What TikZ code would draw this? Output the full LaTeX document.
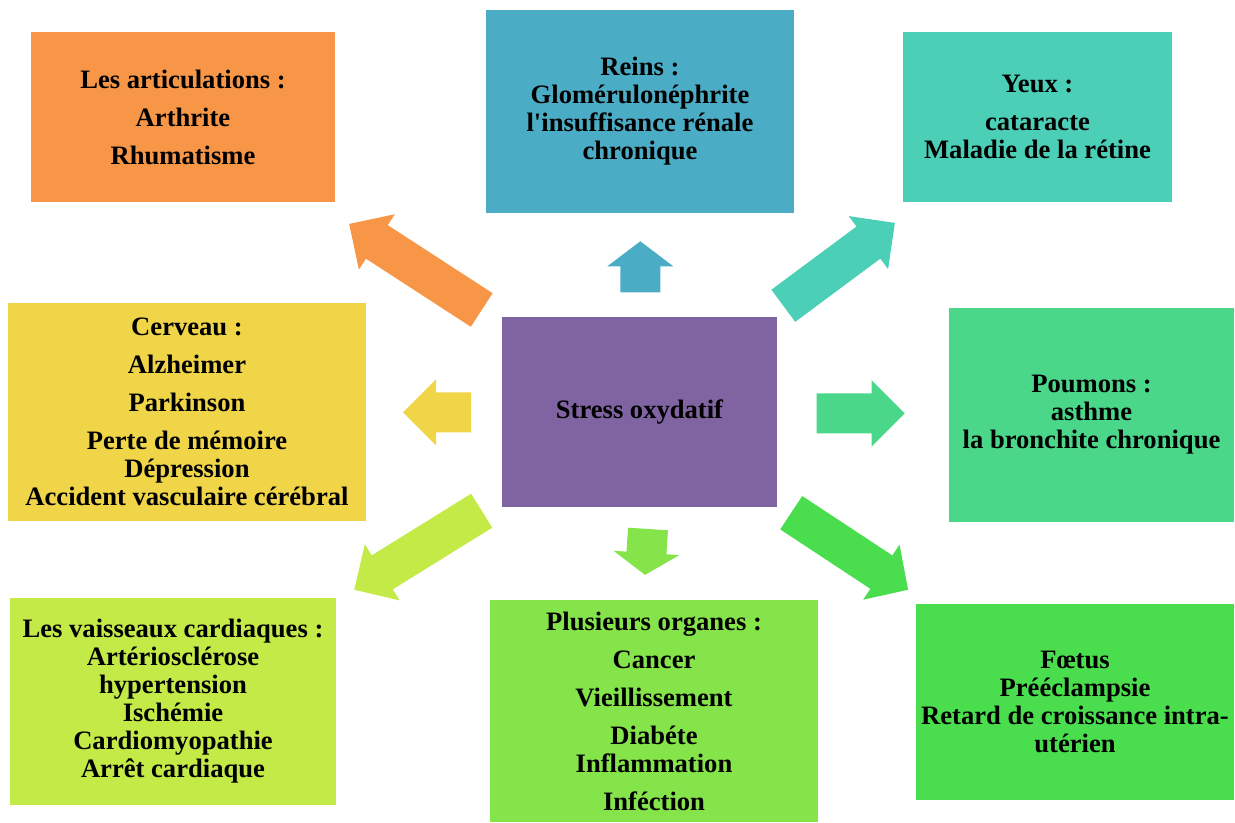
\documentclass[tikz,border=0pt]{standalone}
\usepackage{fontspec}
\setmainfont{Liberation Serif}
\usepackage{xcolor}
\usetikzlibrary{positioning}

\definecolor{artOrange}{HTML}{F79646}
\definecolor{reinBlue}{HTML}{4BACC6}
\definecolor{yeuxTeal}{HTML}{4BCFB7}
\definecolor{cervYellow}{HTML}{F0D549}
\definecolor{stressPurple}{HTML}{8064A2}
\definecolor{poumGreen}{HTML}{4AD78A}
\definecolor{vaisLime}{HTML}{C4EA48}
\definecolor{orgGreen}{HTML}{86E44B}
\definecolor{foetGreen}{HTML}{4ADE4E}

\tikzset{
  organ/.style={rectangle, align=center, inner sep=2pt,
    font=\bfseries\fontsize{13.3}{14}\selectfont}
}

\begin{document}
\begin{tikzpicture}[x=0.5pt,y=0.5pt]
\useasboundingbox (0,0) rectangle (1235,823);

% centre
\node[organ, fill=stressPurple, minimum width=137.5pt, minimum height=95pt] (stress) at (639.5,411) {Stress oxydatif};

% organes
\node[organ, fill=artOrange, minimum width=152pt, minimum height=85pt] (artic) at (183,706)
  {Les articulations :\\[5pt] Arthrite\\[5pt] Rhumatisme};
\node[organ, fill=reinBlue, minimum width=154pt, minimum height=101.5pt] (reins) at (640,711.5)
  {Reins :\\ Glomérulonéphrite\\ l\textquotesingle insuffisance rénale\\ chronique};
\node[organ, fill=yeuxTeal, minimum width=134.5pt, minimum height=85pt] (yeux) at (1037.5,706)
  {Yeux :\\[5pt] cataracte\\ Maladie de la rétine};
\node[organ, fill=cervYellow, minimum width=179pt, minimum height=109pt] (cerveau) at (187,411)
  {Cerveau :\\[5pt] Alzheimer\\[5pt] Parkinson\\[5pt] Perte de mémoire\\ Dépression\\ Accident vasculaire cérébral};
\node[organ, fill=poumGreen, minimum width=142.5pt, minimum height=107pt] (poumons) at (1091.5,408)
  {Poumons :\\ asthme\\ la bronchite chronique};
\node[organ, fill=vaisLime, minimum width=163pt, minimum height=103.5pt] (vaisseaux) at (173,121.5)
  {Les vaisseaux cardiaques :\\ Artériosclérose\\ hypertension\\ Ischémie\\ Cardiomyopathie\\ Arrêt cardiaque};
\node[organ, fill=orgGreen, minimum width=164pt, minimum height=111pt] (organes) at (654,112)
  {Plusieurs organes :\\[5pt] Cancer\\[5pt] Vieillissement\\[5pt] Diabéte\\ Inflammation\\[5pt] Inféction};
\node[organ, fill=foetGreen, minimum width=159pt, minimum height=98pt] (foetus) at (1075,121)
  {Fœtus\\ Prééclampsie\\ Retard de croissance intra-\\ utérien};

% fleches
\foreach \x/\y/\ang/\len/\hl/\col in {481.7/513/147/158/33/artOrange,
    640.3/530.7/90/51/25/reinBlue,
    783.3/517.2/36.6/139/33/yeuxTeal,
    471/410.5/180/68/33/cervYellow,
    816.7/409.7/0/88/33/poumGreen,
    481.7/312.3/211.8/150/33/vaisLime,
    648/294/-93.7/46/22/orgGreen,
    791.2/310.3/-33.4/140/32/foetGreen}
  \fill[\col, shift={(\x,\y)}, rotate=\ang]
    (0,-20) -- ({\len-\hl},-20) -- ({\len-\hl},-33) -- (\len,0)
    -- ({\len-\hl},33) -- ({\len-\hl},20) -- (0,20) -- cycle;
\end{tikzpicture}
\end{document}
